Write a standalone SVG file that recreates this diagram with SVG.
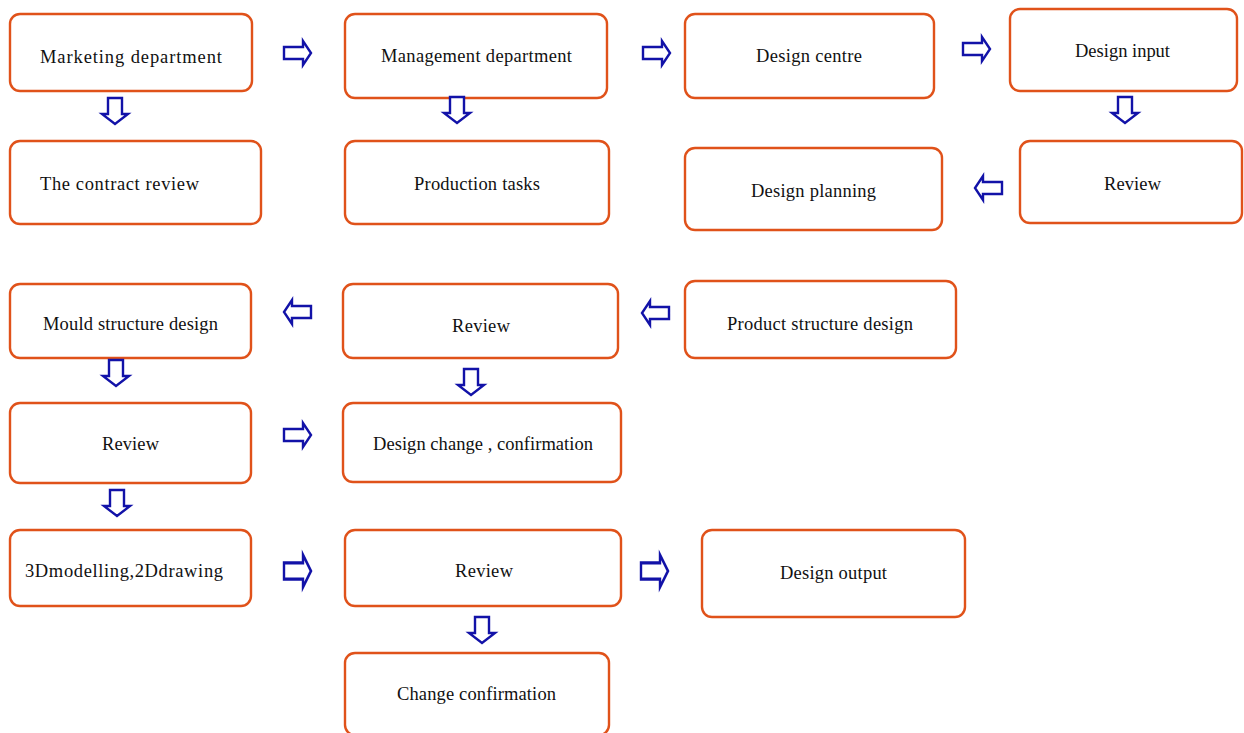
<svg xmlns="http://www.w3.org/2000/svg" width="1244" height="733" viewBox="0 0 1244 733">
<style>
.box{fill:#ffffff;stroke:#e0521a;stroke-width:2.4}
.t{font-family:"Liberation Serif","Times New Roman",serif;font-size:18.5px;fill:#111111;text-anchor:middle}
.ar{fill:#ffffff;stroke:#1212a8;stroke-width:2.4;stroke-linejoin:miter}
</style>
<defs>
<path id="ra" d="M0,-6 H19 V-12 L27,0 L19,12 V6 H0 Z"/>
<path id="la" d="M0,-6 H-19 V-12 L-27,0 L-19,12 V6 H0 Z"/>
<path id="da" d="M-7,0 V16 H-13 L0,26 L13,16 H7 V0 Z"/>
</defs>
<rect width="1244" height="733" fill="#ffffff"/>
<g id="n1"><rect class="box" x="10" y="14" width="242" height="77" rx="10"/><text class="t" x="131" y="63" textLength="182" lengthAdjust="spacing">Marketing department</text></g>
<g id="n2"><rect class="box" x="10" y="141" width="251" height="83" rx="10"/><text class="t" x="119.5" y="190" textLength="159" lengthAdjust="spacing">The contract  review</text></g>
<g id="n3"><rect class="box" x="345" y="14" width="262" height="84" rx="10"/><text class="t" x="476.5" y="62" textLength="191" lengthAdjust="spacing">Management department</text></g>
<g id="n4"><rect class="box" x="345" y="141" width="264" height="83" rx="10"/><text class="t" x="477" y="190" textLength="126" lengthAdjust="spacing">Production tasks</text></g>
<g id="n5"><rect class="box" x="685" y="14" width="249" height="84" rx="10"/><text class="t" x="809" y="62" textLength="106" lengthAdjust="spacing">Design centre</text></g>
<g id="n6"><rect class="box" x="1010" y="9" width="227" height="82" rx="10"/><text class="t" x="1122.5" y="57" textLength="95" lengthAdjust="spacing">Design input</text></g>
<g id="n7"><rect class="box" x="1020" y="141" width="222" height="82" rx="10"/><text class="t" x="1132.5" y="190" textLength="57" lengthAdjust="spacing">Review</text></g>
<g id="n8"><rect class="box" x="685" y="148" width="257" height="82" rx="10"/><text class="t" x="813.5" y="197" textLength="125" lengthAdjust="spacing">Design planning</text></g>
<g id="n9"><rect class="box" x="10" y="284" width="241" height="74" rx="10"/><text class="t" x="130.5" y="330" textLength="175" lengthAdjust="spacing">Mould structure design</text></g>
<g id="n10"><rect class="box" x="343" y="284" width="275" height="74" rx="10"/><text class="t" x="481" y="332" textLength="58" lengthAdjust="spacing">Review</text></g>
<g id="n11"><rect class="box" x="685" y="281" width="271" height="77" rx="10"/><text class="t" x="820" y="330" textLength="186" lengthAdjust="spacing">Product structure design</text></g>
<g id="n12"><rect class="box" x="10" y="403" width="241" height="80" rx="10"/><text class="t" x="130.5" y="450" textLength="57" lengthAdjust="spacing">Review</text></g>
<g id="n13"><rect class="box" x="343" y="403" width="278" height="79" rx="10"/><text class="t" x="483" y="450" textLength="220" lengthAdjust="spacing">Design change , confirmation</text></g>
<g id="n14"><rect class="box" x="10" y="530" width="241" height="76" rx="10"/><text class="t" x="124" y="577" textLength="198" lengthAdjust="spacing">3Dmodelling,2Ddrawing</text></g>
<g id="n15"><rect class="box" x="345" y="530" width="276" height="76" rx="10"/><text class="t" x="484" y="577" textLength="58" lengthAdjust="spacing">Review</text></g>
<g id="n16"><rect class="box" x="702" y="530" width="263" height="87" rx="10"/><text class="t" x="833.5" y="579" textLength="107" lengthAdjust="spacing">Design output</text></g>
<g id="n17"><rect class="box" x="345" y="653" width="264" height="82" rx="10"/><text class="t" x="476.5" y="700" textLength="159" lengthAdjust="spacing">Change confirmation</text></g>
<g id="connectors">
<use href="#ra" class="ar" x="284" y="53"/>
<use href="#ra" class="ar" x="643" y="53"/>
<use href="#ra" class="ar" x="963" y="49"/>
<use href="#ra" class="ar" x="284" y="435"/>
<use href="#ra" class="ar" transform="translate(284,571) scale(1,1.35)"/>
<use href="#ra" class="ar" transform="translate(641,571) scale(1,1.35)"/>
<use href="#la" class="ar" x="1002" y="188"/>
<use href="#la" class="ar" x="311" y="312"/>
<use href="#la" class="ar" x="669" y="313"/>
<use href="#da" class="ar" x="115" y="98"/>
<use href="#da" class="ar" x="457" y="97"/>
<use href="#da" class="ar" x="1125" y="97"/>
<use href="#da" class="ar" x="116" y="360"/>
<use href="#da" class="ar" x="471" y="369"/>
<use href="#da" class="ar" x="117" y="490"/>
<use href="#da" class="ar" x="482" y="617"/>
</g>
</svg>
